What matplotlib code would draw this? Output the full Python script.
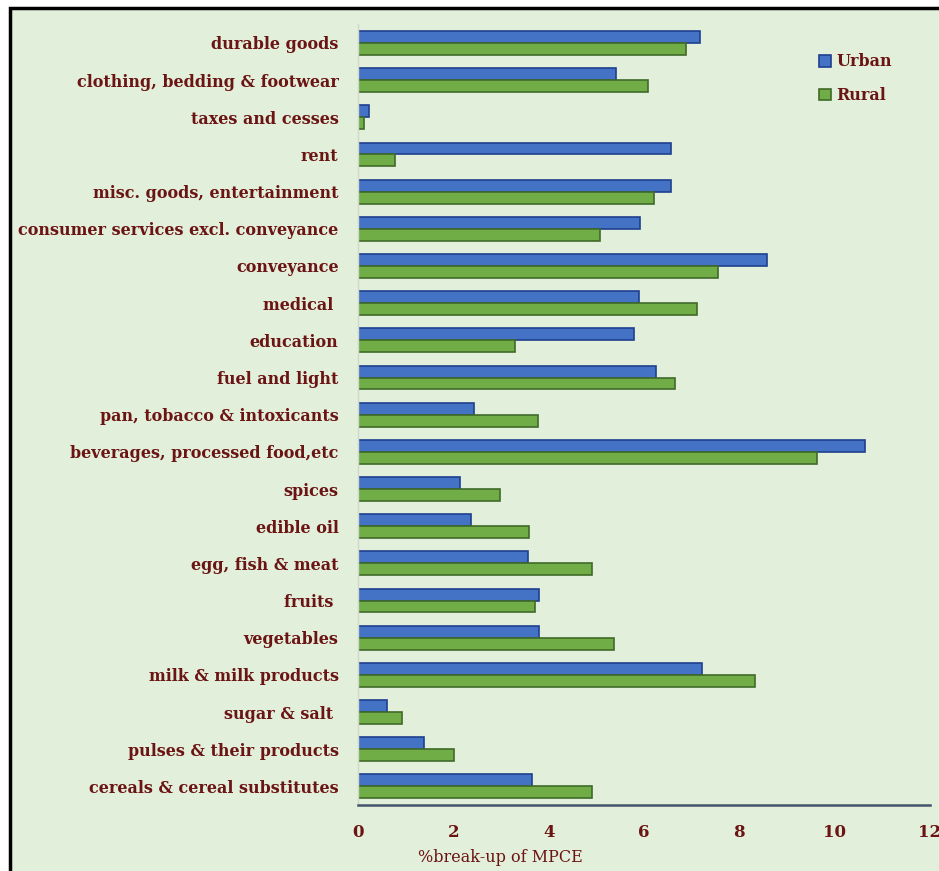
import matplotlib.pyplot as plt
import matplotlib.patches as mpatches
import numpy as np

# categories listed bottom to top
categories = [
    'cereals & cereal substitutes', 'pulses & their products', 'sugar & salt ',
    'milk & milk products', 'vegetables', 'fruits ', 'egg, fish & meat',
    'edible oil', 'spices', 'beverages, processed food,etc',
    'pan, tobacco & intoxicants', 'fuel and light', 'education', 'medical ',
    'conveyance', 'consumer services excl. conveyance',
    'misc. goods, entertainment', 'rent', 'taxes and cesses',
    'clothing, bedding & footwear', 'durable goods',
]
urban = [3.64, 1.39, 0.60, 7.21, 3.80, 3.80, 3.57, 2.37, 2.13, 10.64,
         2.43, 6.26, 5.78, 5.90, 8.59, 5.92, 6.56, 6.56, 0.23, 5.41, 7.18]
rural = [4.90, 2.01, 0.93, 8.32, 5.38, 3.71, 4.90, 3.58, 2.98, 9.62,
         3.78, 6.65, 3.30, 7.12, 7.55, 5.08, 6.20, 0.78, 0.13, 6.09, 6.89]
xticks = [0, 2, 4, 6, 8, 10, 12]

TXT = '#6B1414'
BG = '#E2EFDA'
plt.rcParams['font.family'] = ['DejaVu Serif']

fig = plt.figure(figsize=(9.39, 8.71), dpi=100, facecolor='white')
# panel background with black frame
fig.patches.append(mpatches.Rectangle((9.5 / 939, -0.1), 1.2, 1 - 8.5 / 871 + 0.1,
                                      transform=fig.transFigure, facecolor=BG,
                                      edgecolor='black', linewidth=2.5, zorder=-5))

ax = fig.add_axes([358 / 939, 0.0758, (930 - 358) / 939, 0.972 - 0.0758])
ax.set_facecolor('none')
ax.set_zorder(2)

y = np.arange(len(categories))
h = 0.32
ax.barh(y + h / 2, urban, height=h, color='#4472C4', edgecolor='#1F3F8F',
        linewidth=1.2, label='Urban')
ax.barh(y - h / 2, rural, height=h, color='#70AD47', edgecolor='#3F6A28',
        linewidth=1.2, label='Rural')

ax.set_xlim(0, 12)
ax.set_ylim(-0.5, len(categories) - 0.5)
ax.set_xticks(xticks)
ax.set_xticklabels([str(t) for t in xticks], fontsize=12, fontweight='bold', color=TXT)
ax.set_yticks(y)
ax.set_yticklabels(categories, fontsize=11.5, fontweight='bold', color=TXT)
ax.tick_params(axis='x', length=0, pad=14)
ax.tick_params(axis='y', length=0, pad=14)

for s in ('top', 'right'):
    ax.spines[s].set_visible(False)
ax.spines['bottom'].set_color('#44546A')
ax.spines['bottom'].set_linewidth(1.8)
ax.spines['left'].set_color('#D0D8CC')
ax.spines['left'].set_linewidth(1)

fig.text(500 / 939, 1 - 857 / 871, '%break-up of MPCE', ha='center', va='center',
         fontsize=11.5, color=TXT)

leg = fig.legend(loc='upper left', bbox_to_anchor=(805 / 939, 1 - 39 / 871),
                 frameon=False, handlelength=0.75, handleheight=0.75,
                 handletextpad=0.3, labelspacing=1.05,
                 prop={'size': 11.5, 'weight': 'bold'})
for t in leg.get_texts():
    t.set_color(TXT)

fig.savefig('out.png', dpi=100, facecolor='white')
